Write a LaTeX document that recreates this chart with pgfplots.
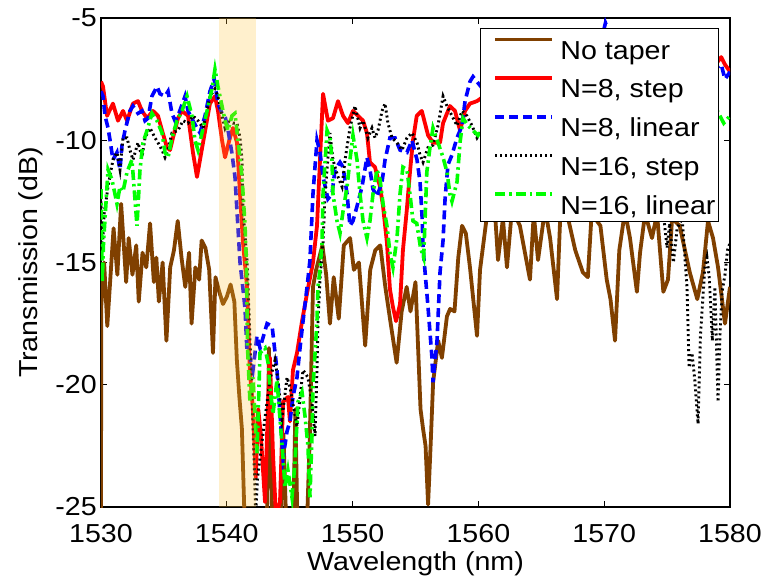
\documentclass[border=0pt]{standalone}
\usepackage{pgfplots}
\pgfplotsset{compat=1.18}
\usepackage{fontspec}
\setmainfont{Liberation Sans}[FakeStretch=1.1]
\definecolor{brn}{RGB}{128,64,0}
\definecolor{shade}{RGB}{255,195,55}
\begin{document}
\begin{tikzpicture}
\begin{axis}[
  width=629pt, height=489pt, scale only axis,
  xmin=1530, xmax=1580, ymin=-25, ymax=-5,
  xtick={1530,1540,...,1580}, ytick={-25,-20,...,-5},
  tick align=inside, xtick pos=both, ytick pos=both,
  major tick length=6pt,
  axis line style={line width=1.3pt},
  every tick/.style={black, line width=1pt},
  font=\fontsize{26}{30}\selectfont,
  ticklabel style={font=\fontsize{26}{30}\selectfont},
  /pgf/number format/assume math mode=true,
  /pgf/number format/1000 sep={},
  xticklabel style={anchor=base, yshift=-35pt},
  yticklabel style={anchor=east, inner sep=0pt, xshift=-4pt},
  xlabel={Wavelength (nm)}, ylabel={Transmission (dB)},
  xlabel style={at={(axis description cs:0.5,0)}, anchor=base, yshift=-63pt},
  ylabel style={at={(axis description cs:-0.1002,0.5)}, anchor=base, rotate=0},
  legend cell align=left,
  legend style={at={(axis description cs:0.9825,0.9796)}, anchor=north east,
    draw=black, line width=1pt, fill=white, inner xsep=0pt, inner ysep=0pt,
    row sep=0pt, font=\fontsize{26}{30}\selectfont,
    nodes={text height=29.5pt, text depth=7.9pt, inner ysep=0pt, inner xsep=3pt}},
  legend image code/.code={\path[draw=none,fill=none] (0pt,-5pt) rectangle (77pt,20pt); \draw[#1] (15pt,9pt) -- (72pt,9pt);},
]
% No taper
\addplot[brn, line width=3.8pt, line join=round] coordinates {
(1530.0,-25.3) (1530.02,-16.8) (1530.25,-15.0) (1530.5,-17.6) (1530.8,-15.2) (1531.0,-13.6) (1531.3,-15.5) (1531.6,-12.6) (1531.8,-14.2) (1532.0,-15.8) (1532.2,-14.0) (1532.5,-15.5) (1532.8,-14.3) (1533.0,-16.6) (1533.3,-14.6) (1533.6,-15.2) (1533.9,-13.4) (1534.2,-15.8) (1534.4,-14.8) (1534.6,-16.6) (1534.9,-15.0) (1535.2,-18.2) (1535.5,-15.2) (1535.8,-14.5) (1536.1,-13.3) (1536.4,-14.8) (1536.7,-16.0) (1537.0,-14.6) (1537.2,-17.5) (1537.5,-15.2) (1537.8,-15.7) (1538.0,-14.1) (1538.3,-14.4) (1538.6,-15.3) (1538.9,-18.7) (1539.1,-15.6) (1539.4,-16.2) (1539.7,-16.7) (1540.0,-16.4) (1540.3,-15.9) (1540.6,-16.6) (1540.8,-19.0) (1541.0,-20.5) (1541.2,-21.8) (1541.4,-25.3) (1543.2,-25.3) (1543.35,-18.5) (1543.5,-22.5) (1543.6,-25.3) (1544.3,-25.3) (1544.5,-22.0) (1544.7,-25.3) (1545.3,-25.3) (1545.45,-21.0) (1545.6,-25.3) (1546.4,-25.3) (1546.6,-22.1) (1546.85,-16.0) (1547.1,-15.3) (1547.6,-14.3) (1547.9,-15.5) (1548.2,-17.5) (1548.5,-15.6) (1548.9,-17.3) (1549.3,-14.3) (1549.8,-14.0) (1550.1,-15.3) (1550.5,-15.0) (1551.0,-18.4) (1551.4,-15.3) (1551.8,-14.5) (1552.2,-14.3) (1552.6,-16.0) (1553.0,-17.4) (1553.5,-19.1) (1553.9,-17.0) (1554.3,-16.0) (1554.6,-17.0) (1555.0,-15.8) (1555.4,-21.0) (1555.6,-21.8) (1555.8,-22.5) (1556.0,-24.9) (1556.2,-22.5) (1556.4,-19.9) (1556.8,-18.2) (1557.1,-18.9) (1557.5,-17.2) (1557.75,-16.9) (1558.1,-17.0) (1558.4,-14.8) (1558.7,-13.5) (1559.0,-13.8) (1559.33,-15.2) (1559.89,-18.0) (1560.13,-15.3) (1560.7,-13.0) (1561.3,-12.8) (1561.56,-14.9) (1561.95,-13.2) (1562.27,-15.2) (1562.67,-12.8) (1563.3,-13.5) (1564.1,-15.7) (1564.4,-13.0) (1564.74,-14.9) (1565.3,-12.8) (1565.7,-14.0) (1566.25,-16.5) (1566.5,-13.2) (1567.0,-12.9) (1567.7,-14.5) (1568.3,-15.4) (1568.7,-15.6) (1569.0,-13.0) (1569.7,-13.5) (1570.2,-15.7) (1570.5,-16.5) (1570.86,-18.2) (1571.2,-14.5) (1571.65,-12.9) (1572.05,-14.0) (1572.6,-16.2) (1572.85,-14.6) (1573.25,-13.0) (1573.8,-14.0) (1574.2,-13.0) (1574.7,-16.2) (1575.07,-15.7) (1575.4,-13.2) (1576.0,-13.5) (1576.8,-15.4) (1577.4,-16.5) (1577.85,-15.4) (1578.25,-13.3) (1578.65,-14.0) (1579.05,-15.2) (1579.6,-17.5) (1580.0,-16.0)
};
\addlegendentry{No taper}
% N=8 step
\addplot[red, line width=3.8pt, line join=round] coordinates {
(1530.0,-7.6) (1530.16,-7.8) (1530.48,-9.0) (1530.95,-8.5) (1531.35,-9.2) (1531.75,-8.8) (1532.07,-9.2) (1532.54,-8.5) (1532.94,-8.4) (1533.26,-8.8) (1533.66,-9.1) (1534.13,-8.8) (1534.53,-9.0) (1534.85,-9.6) (1535.25,-10.3) (1535.49,-10.4) (1535.72,-9.9) (1536.12,-9.1) (1536.44,-8.8) (1536.92,-9.0) (1537.31,-10.5) (1537.63,-11.5) (1537.87,-10.8) (1538.11,-10.1) (1538.66,-8.5) (1539.06,-8.2) (1539.3,-8.8) (1539.62,-10.0) (1539.86,-10.7) (1540.25,-9.9) (1540.49,-9.5) (1540.81,-10.1) (1541.05,-12.2) (1541.29,-14.2) (1541.61,-16.0) (1541.84,-19.5) (1542.08,-21.0) (1542.3,-23.8) (1542.5,-21.0) (1542.7,-22.0) (1542.88,-23.5) (1543.04,-24.8) (1543.28,-20.7) (1543.43,-18.9) (1543.67,-22.8) (1543.9,-25.3) (1544.23,-24.8) (1544.47,-20.7) (1544.86,-20.5) (1545.02,-21.5) (1545.26,-19.4) (1545.58,-18.7) (1545.98,-17.4) (1546.4,-16.2) (1546.85,-15.0) (1547.17,-13.5) (1547.41,-10.8) (1547.65,-8.1) (1548.04,-9.2) (1548.44,-9.1) (1548.84,-8.4) (1549.24,-9.0) (1549.63,-9.3) (1550.03,-8.8) (1550.43,-9.0) (1550.83,-9.2) (1551.14,-9.7) (1551.38,-10.9) (1551.78,-11.1) (1552.18,-11.9) (1552.42,-12.7) (1552.73,-14.2) (1552.97,-16.1) (1553.2,-16.8) (1553.45,-17.4) (1553.77,-16.7) (1554.0,-14.5) (1554.3,-12.9) (1554.56,-11.3) (1554.8,-10.0) (1555.1,-9.0) (1555.5,-8.8) (1556.0,-9.8) (1556.39,-10.1) (1556.95,-10.1) (1557.19,-9.3) (1557.74,-8.6) (1558.14,-8.8) (1558.54,-9.6) (1558.94,-8.8) (1559.33,-8.5) (1559.89,-8.4) (1561.0,-8.0) (1563.0,-8.6) (1565.0,-7.8) (1567.0,-8.4) (1569.0,-7.5) (1571.0,-8.2) (1573.0,-7.6) (1575.0,-8.0) (1577.0,-7.4) (1579.0,-6.8) (1579.3,-6.6) (1579.6,-6.9) (1580.0,-7.2)
};
\addlegendentry{N=8, step}
% N=8 linear
\addplot[blue, line width=3.6pt, dash pattern=on 9pt off 5pt] coordinates {
(1530.0,-8.0) (1530.16,-8.2) (1530.32,-9.0) (1530.56,-9.5) (1530.72,-10.0) (1530.95,-10.8) (1531.27,-10.5) (1531.51,-11.2) (1531.67,-10.2) (1531.91,-9.6) (1532.3,-8.8) (1532.54,-8.6) (1532.94,-8.9) (1533.26,-8.8) (1533.5,-9.2) (1533.74,-9.1) (1534.05,-8.2) (1534.45,-7.8) (1534.69,-8.1) (1535.09,-8.2) (1535.33,-8.0) (1535.64,-8.9) (1535.88,-9.2) (1536.12,-9.0) (1536.68,-8.2) (1536.92,-8.8) (1537.31,-9.2) (1537.63,-9.5) (1537.87,-9.7) (1538.27,-9.0) (1538.66,-8.0) (1539.0,-7.5) (1539.3,-8.5) (1539.62,-8.9) (1539.9,-9.1) (1540.1,-9.6) (1540.4,-10.5) (1540.65,-11.5) (1540.81,-12.9) (1541.05,-15.0) (1541.29,-16.1) (1541.45,-16.9) (1541.61,-18.7) (1541.84,-18.9) (1542.08,-19.4) (1542.4,-18.0) (1542.64,-18.5) (1543.2,-17.5) (1543.6,-17.6) (1543.99,-19.4) (1544.23,-21.2) (1544.47,-23.0) (1544.79,-21.9) (1545.02,-21.5) (1545.26,-20.5) (1545.58,-19.7) (1545.82,-18.5) (1546.06,-17.4) (1546.38,-16.0) (1546.61,-14.9) (1546.85,-12.2) (1547.17,-10.0) (1547.41,-10.5) (1547.65,-11.5) (1548.04,-12.4) (1548.36,-12.2) (1548.6,-11.2) (1549.0,-10.9) (1549.24,-11.1) (1549.56,-12.2) (1549.79,-13.5) (1550.03,-13.3) (1550.35,-12.7) (1550.75,-11.9) (1551.14,-10.7) (1551.38,-11.2) (1551.62,-12.0) (1551.94,-12.3) (1552.34,-11.7) (1552.58,-10.8) (1552.97,-9.9) (1553.37,-9.9) (1553.77,-10.4) (1554.32,-10.5) (1554.72,-10.0) (1555.12,-10.8) (1555.36,-11.7) (1555.52,-13.1) (1555.6,-14.4) (1555.99,-16.8) (1556.31,-18.9) (1556.39,-19.9) (1556.71,-18.2) (1556.95,-15.4) (1557.19,-14.1) (1557.35,-12.4) (1557.58,-11.0) (1557.9,-10.6) (1558.3,-9.9) (1558.7,-9.4) (1558.94,-8.4) (1559.33,-7.6) (1559.57,-7.4) (1560.5,-8.0) (1562.0,-8.8) (1563.5,-8.2) (1565.0,-8.9) (1566.5,-8.0) (1568.0,-7.5) (1569.5,-6.5) (1570.1,-5.2) (1570.4,-5.6) (1571.0,-7.0) (1572.5,-8.5) (1574.0,-8.0) (1575.5,-8.7) (1577.0,-7.8) (1578.5,-7.2) (1579.3,-6.9) (1579.6,-7.5) (1580.0,-7.2)
};
\addlegendentry{N=8, linear}
% N=16 step
\addplot[black, line width=2.9pt, dash pattern=on 2pt off 3pt] coordinates {
(1530.0,-12.5) (1530.1,-14.5) (1530.25,-13.0) (1530.56,-11.9) (1530.95,-10.8) (1531.27,-10.5) (1531.51,-11.2) (1531.75,-9.9) (1532.07,-9.9) (1532.3,-10.4) (1532.54,-10.8) (1532.94,-10.1) (1533.26,-10.7) (1533.5,-9.9) (1533.9,-9.5) (1534.29,-9.9) (1534.53,-10.1) (1534.85,-10.4) (1535.09,-10.7) (1535.33,-10.4) (1535.64,-9.7) (1536.12,-9.6) (1536.52,-9.2) (1536.92,-9.3) (1537.31,-9.0) (1537.71,-9.2) (1538.11,-9.5) (1538.43,-8.8) (1538.66,-8.2) (1539.06,-7.9) (1539.3,-8.2) (1539.62,-9.0) (1539.86,-9.5) (1540.1,-9.2) (1540.49,-9.3) (1540.81,-9.3) (1541.05,-9.9) (1541.21,-10.8) (1541.29,-12.9) (1541.61,-14.9) (1541.7,-16.1) (1541.9,-19.0) (1542.1,-22.0) (1542.3,-25.3) (1542.45,-23.8) (1542.64,-23.0) (1543.0,-21.5) (1543.43,-19.8) (1543.83,-19.0) (1544.07,-19.8) (1544.39,-21.4) (1544.79,-19.7) (1545.02,-20.1) (1545.58,-21.7) (1545.82,-20.5) (1546.06,-19.4) (1546.45,-19.7) (1546.77,-20.7) (1547.01,-22.1) (1547.17,-19.4) (1547.25,-17.4) (1547.41,-15.7) (1547.65,-14.2) (1547.81,-12.2) (1548.2,-9.7) (1548.44,-10.8) (1548.84,-11.5) (1549.16,-11.9) (1549.4,-10.8) (1549.79,-9.5) (1550.19,-8.6) (1550.59,-9.5) (1550.83,-9.2) (1551.22,-9.9) (1551.54,-9.5) (1551.78,-9.9) (1552.02,-9.6) (1552.34,-8.8) (1552.58,-8.5) (1552.81,-9.3) (1553.13,-9.9) (1553.53,-10.1) (1553.93,-10.4) (1554.32,-9.9) (1554.72,-9.7) (1555.12,-10.1) (1555.36,-10.6) (1555.6,-10.9) (1555.99,-10.3) (1556.39,-10.2) (1556.79,-9.4) (1557.19,-8.2) (1557.5,-8.6) (1557.9,-9.0) (1558.3,-9.4) (1558.7,-8.8) (1559.09,-9.0) (1559.49,-9.4) (1559.89,-9.9) (1561.0,-9.0) (1562.5,-10.0) (1564.0,-9.2) (1565.5,-10.5) (1567.0,-9.8) (1568.5,-11.0) (1570.0,-10.0) (1571.5,-11.5) (1573.0,-10.5) (1574.6,-12.5) (1575.0,-14.4) (1575.2,-13.4) (1575.5,-15.0) (1575.8,-13.6) (1576.2,-13.2) (1576.58,-16.0) (1576.75,-19.3) (1576.98,-18.7) (1577.2,-19.8) (1577.46,-21.6) (1577.65,-18.0) (1577.8,-16.8) (1578.0,-15.2) (1578.17,-14.8) (1578.35,-15.6) (1578.6,-18.2) (1578.8,-16.0) (1579.05,-20.7) (1579.2,-18.0) (1579.37,-16.2) (1579.6,-15.5) (1579.8,-14.5) (1580.0,-14.2)
};
\addlegendentry{N=16, step}
% N=16 linear
\addplot[green, line width=3.6pt, dash pattern=on 10pt off 4pt on 2.5pt off 4pt] coordinates {
(1530.0,-12.0) (1530.1,-15.8) (1530.2,-14.2) (1530.56,-11.2) (1530.87,-11.6) (1531.27,-12.6) (1531.51,-11.9) (1531.75,-12.1) (1532.07,-11.3) (1532.46,-10.8) (1532.7,-12.4) (1532.86,-13.5) (1533.1,-11.2) (1533.34,-10.1) (1533.66,-9.6) (1534.05,-8.9) (1534.45,-9.2) (1534.85,-9.7) (1535.09,-10.5) (1535.33,-10.7) (1535.64,-9.9) (1536.04,-9.2) (1536.44,-8.8) (1536.84,-8.2) (1537.23,-9.0) (1537.47,-10.0) (1537.71,-10.4) (1538.03,-9.7) (1538.43,-8.8) (1538.82,-7.9) (1539.06,-7.1) (1539.3,-7.8) (1539.62,-8.6) (1539.86,-9.2) (1540.1,-9.6) (1540.41,-9.0) (1540.65,-8.9) (1540.89,-10.0) (1541.21,-11.5) (1541.45,-13.5) (1541.55,-14.9) (1541.65,-18.5) (1541.84,-20.7) (1542.08,-19.7) (1542.4,-22.8) (1542.64,-18.7) (1543.04,-18.5) (1543.28,-19.1) (1543.43,-20.1) (1543.67,-21.2) (1543.99,-19.8) (1544.23,-21.4) (1544.47,-23.0) (1544.63,-24.2) (1544.86,-23.5) (1545.18,-24.6) (1545.42,-23.2) (1545.66,-20.7) (1545.98,-20.3) (1546.22,-21.3) (1546.45,-22.5) (1546.61,-24.6) (1546.77,-22.1) (1546.85,-20.1) (1547.17,-17.4) (1547.25,-16.0) (1547.41,-15.3) (1547.57,-14.2) (1547.65,-12.2) (1547.97,-9.6) (1548.2,-9.9) (1548.36,-10.8) (1548.44,-12.2) (1548.76,-13.3) (1549.0,-13.8) (1549.24,-12.9) (1549.56,-11.9) (1549.79,-10.8) (1550.03,-9.8) (1550.35,-10.8) (1550.59,-12.2) (1550.83,-13.3) (1551.14,-14.0) (1551.38,-13.3) (1551.62,-12.2) (1551.94,-11.2) (1552.18,-11.6) (1552.42,-12.6) (1552.73,-13.5) (1552.97,-14.6) (1553.21,-15.2) (1553.53,-14.0) (1553.77,-12.2) (1554.0,-11.1) (1554.32,-11.2) (1554.56,-12.2) (1554.8,-13.3) (1555.1,-13.4) (1555.4,-14.4) (1555.65,-14.8) (1555.9,-11.3) (1556.15,-10.3) (1556.39,-9.5) (1556.79,-10.1) (1557.19,-10.7) (1557.5,-11.3) (1557.74,-12.2) (1557.9,-12.5) (1558.3,-11.7) (1558.54,-10.1) (1558.78,-9.1) (1559.17,-9.4) (1559.57,-9.6) (1559.97,-9.8) (1561.0,-9.0) (1562.5,-10.5) (1564.0,-9.3) (1565.5,-10.8) (1567.0,-9.5) (1568.5,-10.2) (1570.0,-9.0) (1571.5,-10.5) (1573.0,-9.8) (1574.5,-11.0) (1576.0,-10.0) (1577.5,-9.5) (1579.0,-8.8) (1579.5,-9.3) (1580.0,-9.0)
};
\addlegendentry{N=16, linear}
% shaded band
\addplot[forget plot, draw=none, fill=shade, fill opacity=0.25] coordinates {(1539.4,-25) (1539.4,-5) (1542.3,-5) (1542.3,-25)};
\end{axis}
\pgfresetboundingbox
\path[use as bounding box] (-101pt,-72pt) rectangle (660pt,507pt);
\end{tikzpicture}
\end{document}
